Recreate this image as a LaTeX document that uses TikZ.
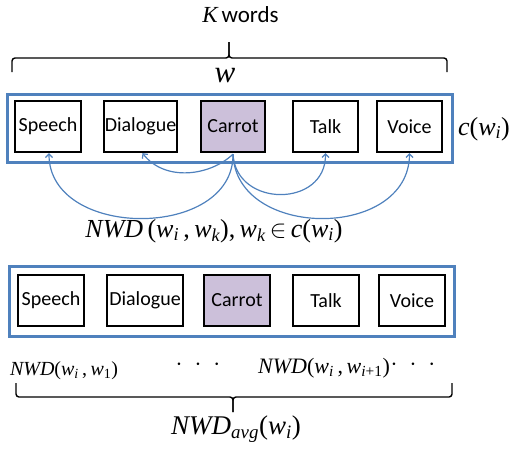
\documentclass[tikz,border=0pt]{standalone}
\usepackage{fontspec}
\setmainfont{Liberation Serif}
\newfontfamily\clb{Carlito}
\usetikzlibrary{arrows.meta}
\definecolor{obl}{HTML}{4F81BD}
\definecolor{lav}{HTML}{CCC0DA}
\newcommand\mi[1]{{\itshape #1}}
\newcommand\ur[1]{{\upshape #1}}
\newcommand\sbi[1]{\textsubscript{\itshape #1}}
\newcommand\sbu[1]{\textsubscript{\upshape #1}}
\begin{document}
\begin{tikzpicture}[x=1pt,y=-1pt,
  wordbox/.style={draw=black,line width=2.3pt,minimum height=51pt,inner sep=0pt,font=\clb\fontsize{20}{24}\selectfont},
  rowbox/.style={draw=obl,line width=3pt,inner sep=0pt},
  arc/.style={draw=obl,line width=1.2pt,-{Straight Barb[length=3.5pt,width=7pt]}},
  brc/.style={draw=black,line width=1.4pt,rounded corners=3pt},
  lbl/.style={inner sep=0pt}]
\useasboundingbox (0,0) rectangle (513,450);
% row 1
\node[rowbox,minimum width=445pt,minimum height=68pt] (row1) at (229.5,128) {};
\node[wordbox,minimum width=66pt] (sp1) at (48,126.5) {Speech};
\node[wordbox,minimum width=73pt] (di1) at (140.5,126.5) {Dialogue};
\node[wordbox,minimum width=64pt,fill=lav] (ca1) at (233,126.5) {Carrot};
\node[wordbox,minimum width=65pt] (ta1) at (325.5,126.5) {Talk};
\node[wordbox,minimum width=65pt] (vo1) at (409.5,126.5) {Voice};
% row 2
\node[rowbox,minimum width=445pt,minimum height=70pt] (row2) at (231.5,301) {};
\node[wordbox,minimum width=66pt] (sp2) at (51,300.5) {Speech};
\node[wordbox,minimum width=76pt] (di2) at (145,300.5) {Dialogue};
\node[wordbox,minimum width=66pt,fill=lav] (ca2) at (237,300.5) {Carrot};
\node[wordbox,minimum width=66pt] (ta2) at (326,300.5) {Talk};
\node[wordbox,minimum width=66pt] (vo2) at (412,300.5) {Voice};
% arcs
\coordinate (cs) at ([yshift=-1pt]ca1.south);
\draw[arc] (cs) .. controls (234,240) and (49,240) .. ([xshift=1pt]sp1.south);
\draw[arc] (cs) .. controls (210,176) and (165,182) .. ([xshift=2pt]di1.south);
\draw[arc] (cs) .. controls (236,208) and (326,208) .. (ta1.south);
\draw[arc] (cs) .. controls (236,240) and (409,240) .. (vo1.south);
% labels
\node[lbl,font=\fontsize{23}{26}\selectfont] (kw) at (240.5,15) {\mi{K}\,{\clb words}};
\coordinate (b1l) at (12,72);
\coordinate (b1r) at (447,72);
\coordinate (b1t) at (229,42);
\draw[brc] (b1l) |- (229,58) -- (b1t);
\draw[brc] (b1r) |- (229,58) -- (b1t);
\node[lbl,font=\fontsize{31}{34}\selectfont] (wl) at (225,76) {\mi{w}};
\node[lbl,font=\fontsize{26}{30}\selectfont] (cw) at (484,129) {\mi{c}\ur{(}\mi{w}\sbi{i}\ur{)}};
\node[lbl,font=\fontsize{26}{30}\selectfont] (nwd) at (214,231) {\mi{NWD}\,\ur{(}\mi{w}\sbi{i}\,\ur{,}\,\mi{w}\sbi{k}\ur{),}\,\mi{w}\sbi{k}\,$\in$\,\mi{c}\ur{(}\mi{w}\sbi{i}\ur{)}};
\node[lbl,font=\fontsize{20}{24}\selectfont] (n1) at (64,371) {\mi{NWD}\ur{(}\mi{w}\sbi{i}\,\ur{,}\,\mi{w}\sbu{1}\ur{)}};
\node[lbl,font=\fontsize{26}{28}\selectfont] (d1) at (198,365) {$\cdot$\hspace{12pt}$\cdot$\hspace{12pt}$\cdot$};
\node[lbl,font=\fontsize{22}{26}\selectfont] (n2) at (324,368) {\mi{NWD}\ur{(}\mi{w}\sbi{i}\,\ur{,}\,\mi{w}\sbi{i\upshape+1}\ur{)}};
\node[lbl,font=\fontsize{26}{28}\selectfont] (d2) at (413,365) {$\cdot$\hspace{12pt}$\cdot$\hspace{12pt}$\cdot$};
\coordinate (b2l) at (16,383);
\coordinate (b2r) at (452,383);
\coordinate (b2t) at (233,412);
\draw[brc] (b2l) |- (233,397) -- (b2t);
\draw[brc] (b2r) |- (233,397) -- (b2t);
\node[lbl,font=\fontsize{27}{30}\selectfont] (navg) at (236,429) {\mi{NWD}\sbi{avg}\ur{(}\mi{w}\sbi{i}\ur{)}};
\end{tikzpicture}
\end{document}
